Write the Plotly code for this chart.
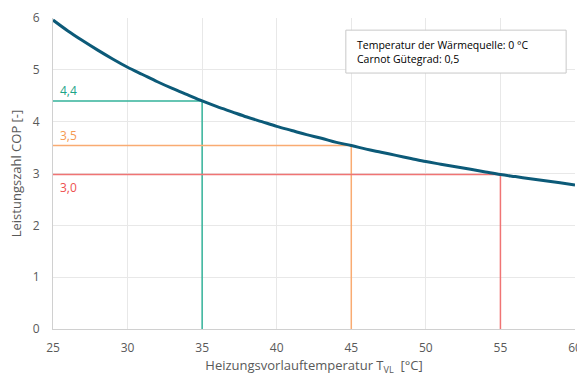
import plotly.graph_objects as go

temps = list(range(25, 61))
cop = [5.96, 5.75, 5.56, 5.38, 5.21, 5.05, 4.91, 4.77, 4.64, 4.52,
       4.40, 4.29, 4.19, 4.09, 4.00, 3.91, 3.83, 3.75, 3.68, 3.60,
       3.54, 3.47, 3.41, 3.35, 3.29, 3.23, 3.18, 3.13, 3.08, 3.03,
       2.98, 2.94, 2.90, 2.86, 2.82, 2.78]

mark_x = [35, 45, 55]
mark_y = [4.40, 3.54, 2.98]
mark_labels = ["4,4", "3,5", "3,0"]
mark_line_colors = ["#34b39a", "#f9ab72", "#f07474"]
mark_text_colors = ["#1ca488", "#f59a52", "#ee5050"]

info_lines = ["Temperatur der Wärmequelle: 0 °C", "Carnot Gütegrad: 0,5"]

FONT = "Open Sans"
fig = go.Figure()

for mx, my, col in zip(mark_x, mark_y, mark_line_colors):
    fig.add_trace(go.Scatter(x=[25, mx, mx], y=[my, my, 0], mode="lines",
                             line=dict(color=col, width=1.5), showlegend=False,
                             hoverinfo="skip"))

fig.add_trace(go.Scatter(x=temps, y=cop, mode="lines", line=dict(color="#0c5a78", width=3),
                         line_shape="spline", showlegend=False))

for my, lab, col, below in zip(mark_y, mark_labels, mark_text_colors, [False, False, True]):
    fig.add_annotation(x=25, y=my, text=lab, showarrow=False, xanchor="left",
                       yanchor="top" if below else "bottom", xshift=5,
                       yshift=-2 if below else 0,
                       font=dict(family=FONT, size=12, color=col))

fig.add_shape(type="rect", xref="paper", yref="paper", x0=0.561, x1=0.983, y0=0.823, y1=0.961,
              line=dict(color="#c8c8c8", width=1), fillcolor="white", layer="above")
fig.add_annotation(xref="paper", yref="paper", x=0.578, y=0.892, text="<br>".join(info_lines),
                   showarrow=False, xanchor="left", yanchor="middle", align="left",
                   font=dict(family=FONT, size=10.5, color="#000000"))

fig.update_layout(
    width=577, height=376,
    margin=dict(l=53, r=2, t=18, b=47),
    paper_bgcolor="white", plot_bgcolor="white",
    font=dict(family=FONT, size=12, color="#595959"),
    xaxis=dict(range=[25, 60], dtick=5, showgrid=True, gridcolor="#e8e8e8", gridwidth=1,
               showline=True, linecolor="#d0d0d0", zeroline=False, ticks="",
               automargin=False, ticklabeloverflow="allow", ticklabelstandoff=8,
               tickfont=dict(size=12, color="#595959"),
               title=dict(text="Heizungsvorlauftemperatur T<sub>VL</sub>  [°C]", standoff=8,
                          font=dict(size=13, color="#595959"))),
    yaxis=dict(range=[0, 6], dtick=1, showgrid=True, gridcolor="#e8e8e8", gridwidth=1,
               showline=True, linecolor="#d0d0d0", zeroline=False, ticks="",
               automargin=False, ticklabelstandoff=10,
               tickfont=dict(size=12, color="#595959"),
               title=dict(text="Leistungszahl COP [-]", standoff=8,
                          font=dict(size=13, color="#595959"))),
)

fig.write_html("out.html", config={"displayModeBar": False},
               post_script="document.body.style.margin='0';document.body.style.overflow='hidden';")
